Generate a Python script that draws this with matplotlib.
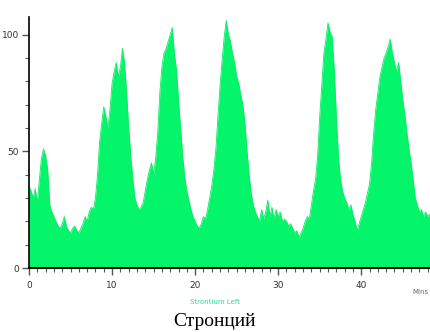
import numpy as np
import matplotlib.pyplot as plt
from matplotlib.ticker import MultipleLocator

# Strontium signal, one value every 0.25 min
time_step = 0.25
signal = [
    35, 33, 30, 34,   28, 38, 47, 51,   48, 42, 27, 24,   22, 20, 18, 17,
    19, 22, 18, 16,   15, 17, 18, 16,   15, 17, 19, 22,   20, 24, 26, 25,
    30, 40, 54, 62,   69, 65, 60, 68,   79, 84, 88, 82,   86, 94, 88, 75,
    60, 48, 38, 30,   27, 25, 26, 28,   33, 38, 42, 45,   40, 47, 58, 75,
    86, 92, 94, 97,   100, 103, 92, 85,  72, 60, 48, 39,  33, 29, 25, 22,
    20, 18, 17, 19,   22, 21, 25, 30,   35, 42, 51, 65,   78, 89, 99, 106,
    100, 97, 92, 88,  82, 79, 74, 70,   62, 50, 40, 32,   27, 24, 22, 20,
    25, 21, 24, 29,   22, 26, 21, 25,   22, 24, 20, 21,   20, 18, 19, 17,
    15, 16, 13, 15,   17, 20, 22, 21,   27, 33, 38, 48,   65, 78, 92, 98,
    105, 101, 99, 85, 65, 48, 38, 33,   30, 28, 25, 27,   23, 20, 16, 19,
    22, 25, 28, 32,   36, 45, 58, 68,   75, 82, 86, 90,   92, 95, 98, 92,
    88, 84, 88, 80,   72, 66, 58, 51,   45, 38, 30, 27,   24, 25, 22, 24,
    22, 23, 21, 22,
]
x_labels = ["0", "10", "20", "30", "40"]
y_labels = ["0", "50", "100"]

t = np.arange(len(signal)) * time_step

fig = plt.figure(figsize=(4.31, 3.32), dpi=100)
ax = fig.add_axes([29 / 431, 64 / 332, 402 / 431, 251 / 332])

green = "#05f56a"
ax.fill_between(t, 0, signal, color=green, linewidth=0)
ax.plot(t, signal, color="#10e866", linewidth=0.6)

ax.set_xlim(0, 48.4)
ax.set_ylim(0, 107.5)

ax.spines["top"].set_visible(False)
ax.spines["right"].set_visible(False)
ax.spines["left"].set_linewidth(1.2)
ax.spines["bottom"].set_linewidth(1.5)

ax.set_xticks([0, 10, 20, 30, 40])
ax.set_xticklabels(x_labels)
ax.set_yticks([0, 50, 100])
ax.set_yticklabels(y_labels)
ax.xaxis.set_minor_locator(MultipleLocator(1))
ax.yaxis.set_minor_locator(MultipleLocator(10))
ax.tick_params(axis="both", which="major", labelsize=6.5, length=5, width=1,
               color="#555555", labelcolor="#333333")
ax.tick_params(axis="x", which="major", pad=4)
ax.tick_params(axis="y", which="major", pad=2)
ax.tick_params(axis="both", which="minor", length=3, width=0.8, color="#555555")

fig.text(412 / 431, 1 - 292 / 332, "Mins", fontsize=5, color="#666666",
         va="center", ha="left")
fig.text(215 / 431, 1 - 302 / 332, "Strontium Left", fontsize=5,
         color="#33d6a0", ha="center", va="center")
fig.text(215 / 431, 1 - 322 / 332, "Стронций", fontsize=14,
         family="Liberation Serif", ha="center", va="center", color="black")

fig.savefig("out.png", dpi=100)
